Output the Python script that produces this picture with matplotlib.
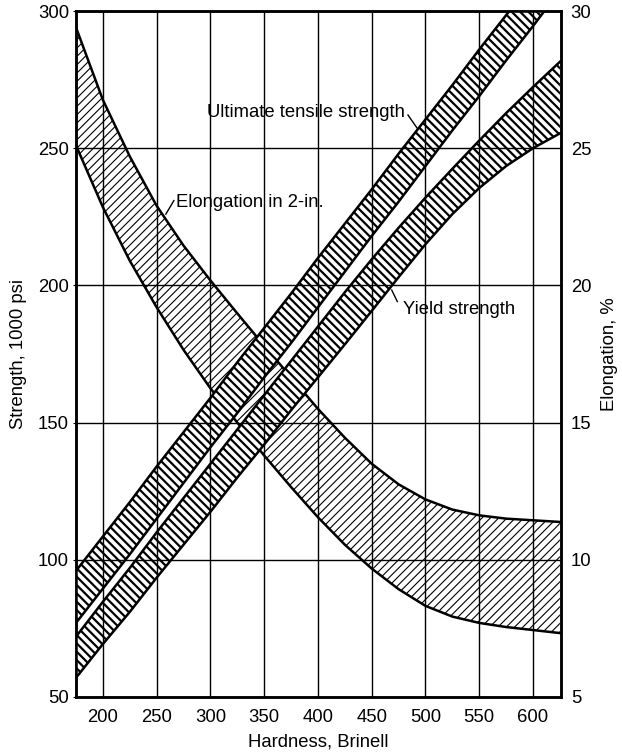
import matplotlib
matplotlib.use("Agg")
import matplotlib.pyplot as plt

plt.rcParams["font.family"] = ["Liberation Sans", "DejaVu Sans"]
plt.rcParams["hatch.linewidth"] = 0.9

# Brinell hardness at which the band edges were read
hardness = [175, 200, 225, 250, 275, 300, 325, 350, 375, 400,
            425, 450, 475, 500, 525, 550, 575, 600, 625]

# ultimate tensile strength band, 1000 psi
uts_high = [96, 108.5, 121, 134, 146.5, 159, 172, 184.5, 197, 210,
            222.5, 235, 248, 260.5, 273, 286, 298.5, 311, 323.5]
uts_low = [77, 89.5, 102, 115, 128, 141, 153.5, 166.5, 179, 192,
           205, 218, 230.5, 243.5, 256.5, 269, 282, 294.5, 307.5]

# yield strength band, 1000 psi
yield_high = [72, 84.7, 97, 110, 122.5, 135, 147.5, 160, 172.5, 185,
              197.5, 209.5, 221, 232, 242.5, 252.8, 262.8, 272.3, 281.5]
yield_low = [57, 69.3, 81, 93.5, 105.5, 117.5, 130, 142, 154.5, 166.5,
             178.5, 190.7, 203, 215, 226, 235.5, 243.5, 250, 255.4]

# elongation in 2 in., percent
elong_high = [29.4, 26.76, 24.7, 22.9, 21.45, 20.18, 18.98, 17.8, 16.65, 15.5,
              14.45, 13.5, 12.75, 12.2, 11.83, 11.62, 11.5, 11.44, 11.38]
elong_low = [25.1, 22.85, 20.9, 19.2, 17.65, 16.25, 15.0, 13.8, 12.65, 11.55,
             10.55, 9.68, 8.93, 8.32, 7.93, 7.7, 7.55, 7.44, 7.33]

x_ticks = [200, 250, 300, 350, 400, 450, 500, 550, 600]
strength_ticks = [50, 100, 150, 200, 250, 300]
elong_ticks = [5, 10, 15, 20, 25, 30]

FS = 13.3


def draw_band(ax, x, lo, hi, hatch, hatch_lw):
    with plt.rc_context({"hatch.linewidth": hatch_lw}):
        ax.fill_between(x, lo, hi, facecolor="white", edgecolor="black",
                        hatch=hatch, linewidth=0, zorder=1)
    ax.plot(x, hi, color="black", lw=1.8, zorder=2)
    ax.plot(x, lo, color="black", lw=1.8, zorder=2)


fig = plt.figure(figsize=(6.22, 7.54), dpi=100)
ax = fig.add_axes([0.1222, 0.0756, 0.7797, 0.9098])
ax2 = ax.twinx()
# strength axes on top so its bands cover the elongation band
ax.set_zorder(ax2.get_zorder() + 1)
ax.patch.set_visible(False)

draw_band(ax2, hardness, elong_low, elong_high, "////", 0.8)
draw_band(ax, hardness, uts_low, uts_high, "\\\\\\\\", 1.6)
draw_band(ax, hardness, yield_low, yield_high, "\\\\\\\\", 1.6)

ax.set_xlim(175, 626)
ax.set_ylim(50, 300)
ax2.set_ylim(5, 30)

ax.set_xticks(x_ticks)
ax.set_yticks(strength_ticks)
ax2.set_yticks(elong_ticks)

ax.grid(True, color="black", lw=1.0)
ax.set_axisbelow(False)

for a in (ax, ax2):
    for sp in a.spines.values():
        sp.set_linewidth(1.8)

ax.tick_params(axis="x", length=0, pad=9, labelsize=FS)
ax.tick_params(axis="y", length=2, pad=3, labelsize=FS)
ax2.tick_params(axis="y", length=0, pad=7, labelsize=FS)

ax.set_xlabel("Hardness, Brinell", fontsize=FS, labelpad=5)
ax.set_ylabel("Strength, 1000 psi", fontsize=FS, labelpad=8)
ax2.set_ylabel("Elongation, %", fontsize=FS, labelpad=7)

# curve labels with short leaders
ax.text(297, 261.5, "Ultimate tensile strength", fontsize=FS, va="baseline")
ax.plot([483.7, 492.1], [262.1, 257.4], color="black", lw=1.0, zorder=3)

ax.text(267.6, 228.7, "Elongation in 2-in.", fontsize=FS, va="baseline")
ax.plot([266, 258.6], [230.9, 226], color="black", lw=1.0, zorder=3)

ax.text(479.4, 189.6, "Yield strength", fontsize=FS, va="baseline")
ax.plot([468.6, 473.8], [198.3, 194.1], color="black", lw=1.0, zorder=3)

fig.savefig("out.png", dpi=100)
